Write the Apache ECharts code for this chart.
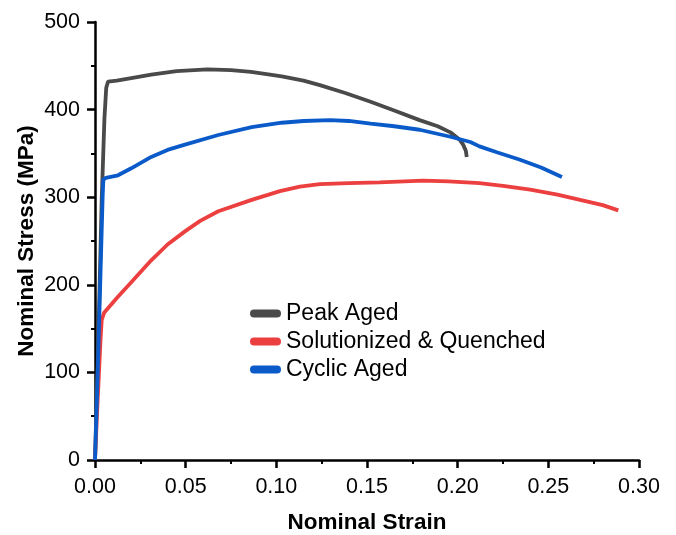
<!DOCTYPE html>
<html>
<head>
<meta charset="utf-8">
<script src="https://cdn.jsdelivr.net/npm/echarts@6/dist/echarts.min.js"></script>
<style>
html,body{margin:0;padding:0;background:#fff;}
#chart{width:676px;height:535px;}
</style>
</head>
<body>
<div id="chart"></div>
<script>
const seriesNames = ['Peak Aged', 'Solutionized & Quenched', 'Cyclic Aged'];
const xTicks = [0, 0.05, 0.10, 0.15, 0.20, 0.25, 0.30];
const yTicks = [0, 100, 200, 300, 400, 500];

const peakAged = [
  [0,0],[0.0015,110],[0.0037,297],[0.0052,390],[0.0062,425],[0.0072,432],[0.012,433],[0.02,436],
  [0.031,440],[0.045,444],[0.062,446],[0.075,445],[0.086,443],[0.0965,440],[0.103,438],
  [0.115,433],[0.124,428],[0.138,419],[0.152,409],[0.165,399],[0.179,388],[0.189,381],
  [0.196,374],[0.201,366],[0.203,360],[0.2045,353],[0.205,346]
];
const solutionized = [
  [0,0],[0.0015,70],[0.003,135],[0.0037,160],[0.005,168],[0.0129,187],[0.02,203],[0.031,228],
  [0.04,246],[0.0496,261],[0.058,273],[0.068,284],[0.0864,297],[0.102,307],[0.113,312],
  [0.124,315],[0.14,316],[0.157,317],[0.181,319],[0.195,318],[0.212,316],[0.225,313],
  [0.24,308.6],[0.255,303],[0.2675,297],[0.28,291],[0.2886,285]
];
const cyclicAged = [
  [0,0],[0.0015,100],[0.003,210],[0.0042,300],[0.0046,320],[0.006,322],[0.0127,325],[0.02,333],
  [0.031,346],[0.04,354],[0.0496,360],[0.068,371],[0.0864,380],[0.103,385],[0.115,387],
  [0.1296,388],[0.14,387],[0.152,384],[0.165,381],[0.179,377],[0.196,369],[0.207,363],
  [0.212,358],[0.222,351],[0.234,343],[0.246,334],[0.2575,323]
];

const colors = ['#4a4a4a', '#ec3f3f', '#0a5bc9'];
const FONT = '"Liberation Sans", Arial, sans-serif';

const chart = echarts.init(document.getElementById('chart'), null, {renderer: 'canvas'});
const capsule = 'path://M4,0 L27,0 A4,4 0 0 1 27,8 L4,8 A4,4 0 0 1 4,0 Z';

const axisCommon = {
  axisLine: {show: true, lineStyle: {color: '#000', width: 2.5}},
  axisTick: {show: true, inside: false, length: 8, lineStyle: {color: '#000', width: 2.5}},
  minorTick: {show: true, splitNumber: 2, length: 4, lineStyle: {color: '#000', width: 2}},
  splitLine: {show: false},
  nameLocation: 'middle',
  nameMoveOverlap: false,
  nameTextStyle: {fontFamily: FONT, fontSize: 22.5, fontWeight: 'bold', color: '#000'}
};

chart.setOption({
  animation: false,
  backgroundColor: '#fff',
  grid: {left: 95, right: 37, top: 22, bottom: 75, containLabel: false, outerBoundsMode: 'none'},
  xAxis: Object.assign({}, axisCommon, {
    type: 'value', min: xTicks[0], max: xTicks[xTicks.length - 1], interval: 0.05,
    name: 'Nominal Strain', nameGap: 51,
    axisLabel: {fontFamily: FONT, fontSize: 21.5, color: '#000', margin: 16,
      formatter: v => v.toFixed(2)}
  }),
  yAxis: Object.assign({}, axisCommon, {
    type: 'value', min: yTicks[0], max: yTicks[yTicks.length - 1], interval: 100,
    name: 'Nominal Stress (MPa)', nameGap: 57,
    axisLabel: {fontFamily: FONT, fontSize: 21.5, color: '#000', margin: 15}
  }),
  legend: {
    orient: 'vertical', left: 245, top: 297,
    itemWidth: 31, itemHeight: 8, itemGap: 5, itemTextGap: 12,
    textStyle: {fontFamily: FONT, fontSize: 23, color: '#000', lineHeight: 23},
    data: seriesNames.map((n, i) => ({name: n, icon: capsule, itemStyle: {color: colors[i]}}))
  },
  series: [peakAged, solutionized, cyclicAged].map((d, i) => ({
    name: seriesNames[i], type: 'line', data: d, showSymbol: false, symbol: 'none',
    smooth: false, color: colors[i],
    lineStyle: {color: colors[i], width: 3.8}
  }))
});
</script>
</body>
</html>
